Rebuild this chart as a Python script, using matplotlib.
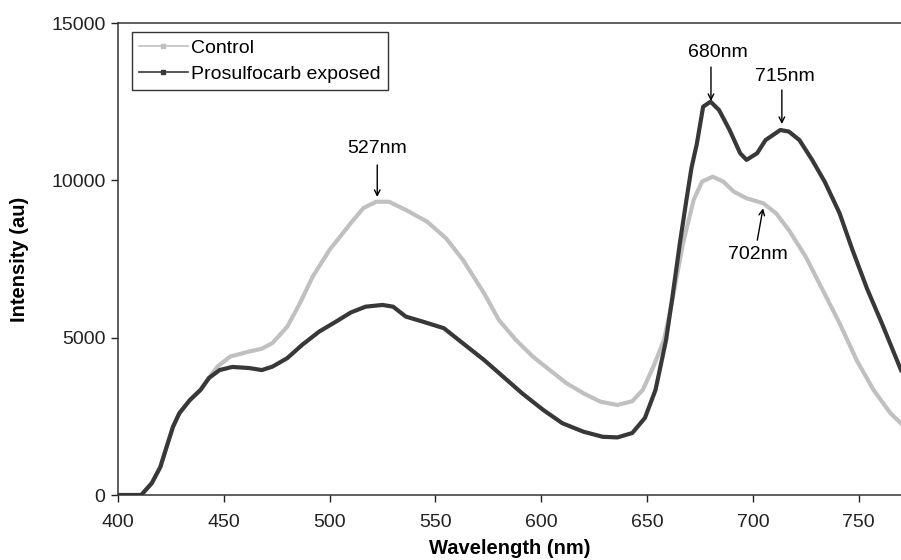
import matplotlib.pyplot as plt
from matplotlib.lines import Line2D

plt.rcParams['font.family'] = ['Liberation Sans', 'DejaVu Sans']

# control spectrum (light grey)
wl_ctrl = [400, 411, 416, 420, 423, 426, 429, 434, 439, 443, 447, 453, 462, 468, 473, 480,
           486, 492, 500, 510, 516, 522, 528, 536, 546, 555, 563, 573, 580, 588, 596, 604,
           612, 620, 628, 636, 643, 648, 653, 658, 662, 667, 672, 676, 681, 686, 691, 697,
           705, 711, 717, 725, 733, 741, 749, 757, 765, 770]
ctrl = [0, 0, 380, 890, 1535, 2170, 2600, 3020, 3340, 3720, 4080, 4400, 4560, 4650, 4830, 5350,
        6100, 6940, 7790, 8640, 9120, 9320, 9320, 9060, 8690, 8160, 7470, 6410, 5560, 4930, 4400, 3970,
        3550, 3230, 2965, 2860, 2980, 3340, 4080, 4930, 6200, 8000, 9375, 9960, 10115, 9960, 9640, 9430,
        9270, 8950, 8420, 7570, 6515, 5455, 4290, 3340, 2600, 2280]

# prosulfocarb exposed (dark)
wl_pros = [400, 411, 416, 420, 423, 426, 429, 434, 439, 443, 448, 454, 462, 468, 473, 480,
           487, 495, 503, 510, 517, 525, 530, 536, 544, 554, 563, 573, 582, 591, 601, 610,
           620, 629, 636, 643, 649, 654, 659, 662, 665.5, 668.6, 671, 673.5, 676.5, 680, 684, 689,
           694, 697, 702, 706, 713, 717, 722, 728, 734, 741, 747, 754, 761, 770]
pros = [0, 0, 380, 890, 1535, 2170, 2600, 3020, 3340, 3720, 3970, 4070, 4035, 3970, 4080, 4350,
        4770, 5190, 5510, 5800, 5985, 6040, 5985, 5670, 5510, 5300, 4820, 4290, 3760, 3230, 2700, 2280,
        2010, 1850, 1830, 1970, 2450, 3340, 4930, 6300, 8000, 9375, 10400, 11150, 12340, 12500, 12235, 11600,
        10860, 10650, 10860, 11280, 11600, 11550, 11280, 10650, 9950, 8950, 7800, 6550, 5450, 3970]

c_ctrl = '#c0c0c0'
c_pros = '#383838'
fs = 14

fig = plt.figure(figsize=(9.01, 5.6), dpi=100)
ax = fig.add_axes([118/901, 65/560, 783/901, 472/560])

ax.plot(wl_ctrl, ctrl, '-', color=c_ctrl, lw=3, solid_joinstyle='round')
ax.plot(wl_pros, pros, '-', color=c_pros, lw=3, solid_joinstyle='round')

ax.set_xlim(400, 770)
ax.set_ylim(0, 15000)
ax.set_xticks([400, 450, 500, 550, 600, 650, 700, 750])
ax.set_yticks([0, 5000, 10000, 15000])
ax.tick_params(direction='out', length=5, width=1, labelsize=fs, colors='#222222')
ax.tick_params(axis='x', pad=9)
ax.tick_params(axis='y', pad=4)
for s in ['left', 'bottom', 'top']:
    ax.spines[s].set_color('#333333')
    ax.spines[s].set_linewidth(1.1)
ax.spines['right'].set_visible(False)

ax.set_xlabel('Wavelength (nm)', fontsize=14.5, fontweight='bold', labelpad=5.5)
ax.set_ylabel('Intensity (au)', fontsize=14.5, fontweight='bold', labelpad=16)

# peak labels
arr = dict(arrowstyle='->', color='black', lw=1, shrinkA=0, shrinkB=0)
ax.annotate('', xy=(522.5, 9470), xytext=(522.5, 10490), arrowprops=arr)
ax.text(522.5, 11000, '527nm', ha='center', va='center', fontsize=fs)
ax.annotate('', xy=(680.2, 12520), xytext=(680.2, 13600), arrowprops=arr)
ax.text(683.4, 14050, '680nm', ha='center', va='center', fontsize=fs)
ax.annotate('', xy=(713.7, 11790), xytext=(713.7, 12870), arrowprops=arr)
ax.text(715, 13300, '715nm', ha='center', va='center', fontsize=fs)
ax.annotate('', xy=(704.8, 9110), xytext=(702.1, 8100), arrowprops=arr)
ax.text(702.4, 7650, '702nm', ha='center', va='center', fontsize=fs)

handles = [Line2D([], [], color=c_ctrl, lw=1.2, marker='s', ms=3),
           Line2D([], [], color=c_pros, lw=1.2, marker='s', ms=3)]
leg = ax.legend(handles, ['Control', 'Prosulfocarb exposed'], loc='upper left',
                bbox_to_anchor=(0.018, 0.98), fontsize=fs, fancybox=False,
                edgecolor='#333333', framealpha=1, handlelength=2.5, handletextpad=0.2,
                borderpad=0.35, labelspacing=0.45, borderaxespad=0)
leg.get_frame().set_linewidth(1)

plt.savefig('out.png', dpi=100)
